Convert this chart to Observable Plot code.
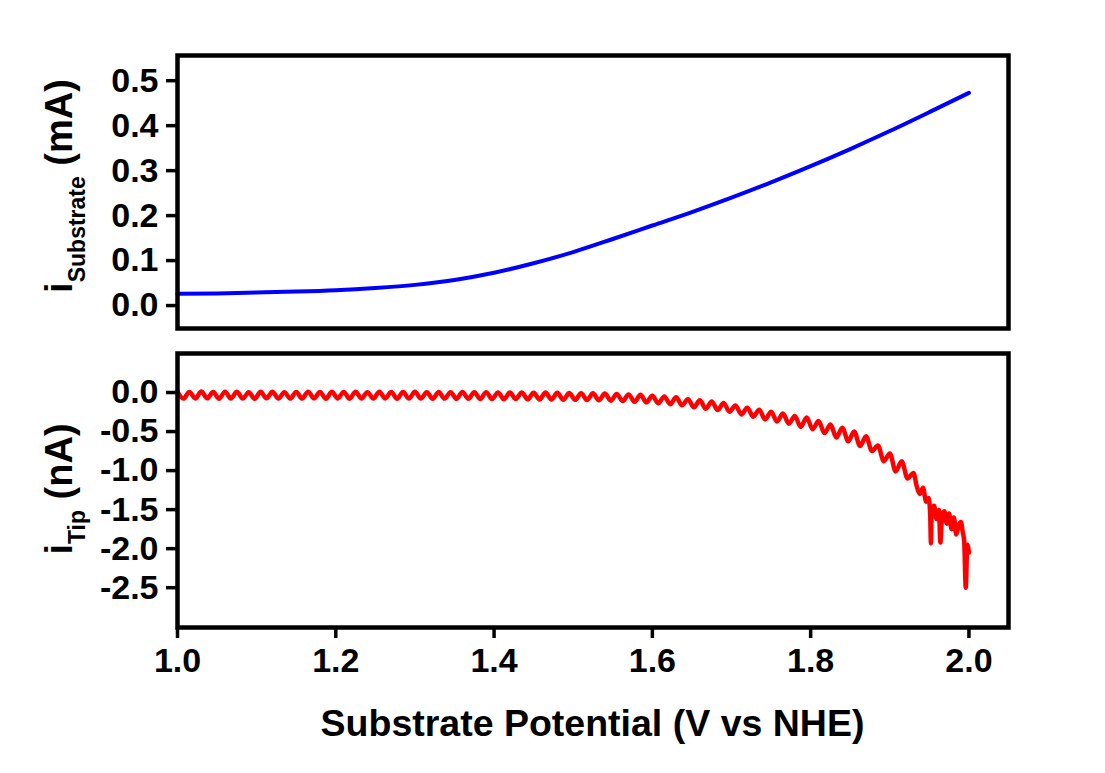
<!DOCTYPE html>
<html>
<head>
<meta charset="utf-8">
<script src="https://cdn.jsdelivr.net/npm/d3@7"></script>
<script src="https://cdn.jsdelivr.net/npm/@observablehq/plot@0.6"></script>
<style>
  html, body { margin: 0; padding: 0; background: #ffffff; }
  #chart { width: 1105px; height: 773px; position: relative; }
  #chart svg { display: block; }
</style>
</head>
<body>
<div id="chart"></div>
<script>
// ---- Data ----
const subPotential = [1.00,1.05,1.10,1.15,1.20,1.25,1.30,1.35,1.40,1.45,1.50,1.55,1.60,1.65,1.70,1.75,1.80,1.85,1.90,1.95,2.00];
const subCurrent   = [0.026,0.027,0.029,0.031,0.034,0.039,0.046,0.057,0.073,0.094,0.119,0.148,0.178,0.208,0.240,0.274,0.310,0.348,0.388,0.430,0.473];

const tipPotential = [
1.0000,1.0075,1.0150,1.0225,1.0300,1.0375,1.0450,1.0525,1.0600,1.0675,
1.0750,1.0825,1.0900,1.0975,1.1050,1.1125,1.1200,1.1275,1.1350,1.1425,
1.1500,1.1575,1.1650,1.1725,1.1800,1.1875,1.1950,1.2025,1.2100,1.2175,
1.2250,1.2325,1.2400,1.2475,1.2550,1.2625,1.2700,1.2775,1.2850,1.2925,
1.3000,1.3075,1.3150,1.3225,1.3300,1.3375,1.3450,1.3525,1.3600,1.3675,
1.3750,1.3825,1.3900,1.3975,1.4050,1.4125,1.4200,1.4275,1.4350,1.4425,
1.4500,1.4575,1.4650,1.4725,1.4800,1.4875,1.4950,1.5025,1.5100,1.5175,
1.5250,1.5325,1.5400,1.5475,1.5550,1.5625,1.5700,1.5775,1.5850,1.5925,
1.6000,1.6075,1.6150,1.6225,1.6300,1.6375,1.6450,1.6525,1.6600,1.6675,
1.6750,1.6825,1.6900,1.6975,1.7050,1.7125,1.7200,1.7275,1.7350,1.7425,
1.7500,1.7575,1.7650,1.7725,1.7800,1.7875,1.7950,1.8025,1.8100,1.8175,
1.8250,1.8325,1.8400,1.8475,1.8550,1.8625,1.8700,1.8775,1.8850,1.8925,
1.9000,1.9075,1.9150,1.9225,1.9300,
1.9340,1.9380,1.9420,1.9460,1.9490,1.9510,1.9520,1.9530,1.9560,1.9590,
1.9620,1.9640,1.9660,1.9690,1.9720,1.9750,1.9780,1.9810,1.9840,1.9870,
1.9900,1.9920,1.9940,1.9960,1.9980,2.0000];
const tipCurrent = [
 0.008,-0.078, 0.008,-0.076, 0.012,-0.074, 0.006,-0.080, 0.011,-0.076,
 0.010,-0.078, 0.004,-0.079, 0.009,-0.074, 0.010,-0.078, 0.005,-0.077,
 0.008,-0.078, 0.011,-0.074, 0.006,-0.079, 0.009,-0.076, 0.008,-0.080,
 0.010,-0.075, 0.005,-0.078, 0.009,-0.076, 0.008,-0.079, 0.006,-0.077,
 0.009,-0.078, 0.004,-0.080, 0.007,-0.078, 0.005,-0.081, 0.006,-0.079,
 0.004,-0.082, 0.005,-0.083, 0.002,-0.086, 0.000,-0.084, 0.002,-0.087,
-0.002,-0.088,-0.001,-0.090,-0.004,-0.092,-0.006,-0.094,-0.008,-0.096,
-0.010,-0.100,-0.014,-0.104,-0.018,-0.110,-0.024,-0.118,-0.030,-0.126,
-0.040,-0.138,-0.050,-0.150,-0.062,-0.164,-0.085,-0.190,-0.100,-0.208,
-0.115,-0.225,-0.135,-0.245,-0.165,-0.280,-0.195,-0.310,-0.220,-0.345,
-0.245,-0.370,-0.270,-0.400,-0.300,-0.440,-0.320,-0.470,-0.365,-0.520,
-0.410,-0.575,-0.450,-0.625,-0.500,-0.685,-0.560,-0.750,-0.680,-0.880,
-0.780,-1.010,-0.880,-1.100,-1.030,
-1.200,-1.300,-1.220,-1.400,-1.350,-1.550,-1.930,-1.500,-1.450,-1.620,
-1.500,-1.920,-1.580,-1.520,-1.680,-1.550,-1.750,-1.600,-1.820,-1.700,
-1.660,-1.780,-1.900,-2.500,-1.950,-2.050];

const xTicks   = [1.0, 1.2, 1.4, 1.6, 1.8, 2.0];
const subTicks = [0.0, 0.1, 0.2, 0.3, 0.4, 0.5];
const tipTicks = [0.0, -0.5, -1.0, -1.5, -2.0, -2.5];

const subData = subPotential.map((v, i) => ({v, c: subCurrent[i]}));
const tipData = tipPotential.map((v, i) => ({v, c: tipCurrent[i]}));

const fmt = d => d.toFixed(1);
const FONT = "'Liberation Sans', Arial, Helvetica, sans-serif";
const baseStyle = {fontFamily: FONT, fontWeight: "bold", fontSize: "34px", color: "#000", background: "transparent", overflow: "visible"};

const topPlot = Plot.plot({
  width: 1105, height: 340,
  marginLeft: 177, marginRight: 97, marginTop: 55, marginBottom: 12,
  style: baseStyle,
  x: {domain: [1.0, 2.05], axis: null},
  y: {domain: [-0.051, 0.556], axis: null},
  marks: [
    Plot.axisY({ticks: subTicks, tickFormat: fmt, tickSize: 11, tickPadding: 8, strokeWidth: 3.5, label: null, fontSize: 34}),
    Plot.line(subData, {x: "v", y: "c", stroke: "#0000ff", strokeWidth: 4, curve: "monotone-x"}),
    Plot.frame({stroke: "#000", strokeWidth: 4.5})
  ]
});

const bottomPlot = Plot.plot({
  width: 1105, height: 433,
  marginLeft: 177, marginRight: 97, marginTop: 13, marginBottom: 146,
  style: baseStyle,
  x: {domain: [1.0, 2.05]},
  y: {domain: [-3.01, 0.5]},
  marks: [
    Plot.axisY({ticks: tipTicks, tickFormat: fmt, tickSize: 11, tickPadding: 8, strokeWidth: 3.5, label: null, fontSize: 34}),
    Plot.axisX({ticks: xTicks, tickFormat: fmt, tickSize: 11, tickPadding: 9, strokeWidth: 3.5, label: null, fontSize: 34}),
    Plot.line(tipData, {x: "v", y: "c", stroke: "#ff0000", strokeWidth: 4.5, curve: "monotone-x"}),
    Plot.frame({stroke: "#000", strokeWidth: 4.5})
  ]
});

const chart = document.getElementById("chart");
chart.appendChild(topPlot);
chart.appendChild(bottomPlot);

// Y-axis titles with subscripts
function yTitle(svg, cx, cy, main, sub, unit) {
  const t = d3.select(svg).append("text")
    .attr("transform", `translate(${cx},${cy}) rotate(-90)`)
    .attr("text-anchor", "middle")
    .attr("font-family", FONT)
    .attr("font-weight", "bold")
    .attr("font-size", 38)
    .attr("fill", "#000");
  t.append("tspan").text(main);
  t.append("tspan").attr("font-size", 23).attr("dy", 13).text(sub);
  t.append("tspan").attr("dy", -13).text(" " + unit);
}
yTitle(topPlot, 72, 186, "i", "Substrate", "(mA)");
yTitle(bottomPlot, 72, 149, "i", "Tip", "(nA)");

// X-axis title
d3.select(bottomPlot).append("text")
  .attr("x", 592.5).attr("y", 396)
  .attr("text-anchor", "middle")
  .attr("font-family", FONT)
  .attr("font-weight", "bold")
  .attr("font-size", 37.5)
  .attr("fill", "#000")
  .text("Substrate Potential (V vs NHE)");
</script>
</body>
</html>
